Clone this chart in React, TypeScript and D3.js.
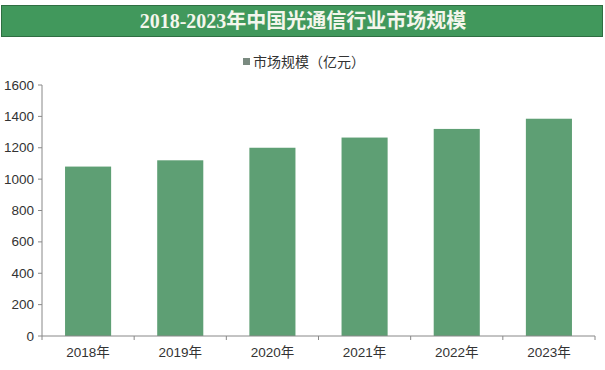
import * as d3 from 'd3';

const years = ['2018年', '2019年', '2020年', '2021年', '2022年', '2023年'];
const marketSize = [1080, 1120, 1200, 1265, 1320, 1385];
const yTicks = [0, 200, 400, 600, 800, 1000, 1200, 1400, 1600];

const title = '2018-2023年中国光通信行业市场规模';
const legendLabel = '市场规模（亿元）';

export default function App() {
    const width = 605;
    const height = 370;
    const margin = { top: 85, right: 10, bottom: 34, left: 42 };
    const innerWidth = width - margin.left - margin.right;
    const innerHeight = height - margin.top - margin.bottom;

    const xScale = d3.scaleBand().domain(years).range([0, innerWidth]).paddingInner(0.5).paddingOuter(0.25);
    const yScale = d3.scaleLinear().domain([0, 1600]).range([innerHeight, 0]);

    const step = innerWidth / years.length;
    const titleFont = '"Liberation Serif", "Noto Sans CJK SC", serif';
    const font = '"Liberation Sans", "Noto Sans CJK SC", Arial, sans-serif';

    return (
        <svg width={width} height={height} style={{ position: 'absolute', left: 0, top: 0 }}>
            <rect width={width} height={height} fill="#ffffff" />
            <rect x={1.5} y={5.5} width={601} height={31} fill="#41985c" stroke="#2f6e42" strokeWidth={1} />
            <text x={303} y={21} textAnchor="middle" dominantBaseline="central"
                fontFamily={titleFont} fontWeight="bold" fontSize={20} fill="#f4f6ec">
                {title}
            </text>

            <rect x={243} y={58} width={7} height={7} fill="#7a8a80" />
            <text x={253} y={61.5} dominantBaseline="central" fontFamily={font} fontSize={14} fill="#333">
                {legendLabel}
            </text>

            <g transform={`translate(${margin.left}, ${margin.top})`}>
                {marketSize.map((d, i) => (
                    <rect
                        key={i}
                        x={xScale(years[i])}
                        y={yScale(d)}
                        width={xScale.bandwidth()}
                        height={innerHeight - yScale(d)}
                        fill="#5e9f74"
                    />
                ))}

                <line x1={0} x2={0} y1={0} y2={innerHeight} stroke="#888" />
                {yTicks.map((t) => (
                    <g key={t} transform={`translate(0, ${yScale(t)})`}>
                        <line x1={-4} x2={0} stroke="#888" />
                        <text x={-8} dominantBaseline="central" textAnchor="end"
                            fontFamily={font} fontSize={13.5} fill="#333">{t}</text>
                    </g>
                ))}

                <line x1={0} x2={innerWidth} y1={innerHeight} y2={innerHeight} stroke="#888" />
                {d3.range(years.length + 1).map((i) => (
                    <line key={i} x1={i * step} x2={i * step} y1={innerHeight} y2={innerHeight + 4} stroke="#888" />
                ))}
                {years.map((y) => (
                    <text key={y} x={xScale(y) + xScale.bandwidth() / 2} y={innerHeight + 16}
                        dominantBaseline="central" textAnchor="middle"
                        fontFamily={font} fontSize={13.5} fill="#333">{y}</text>
                ))}
            </g>
        </svg>
    );
}
